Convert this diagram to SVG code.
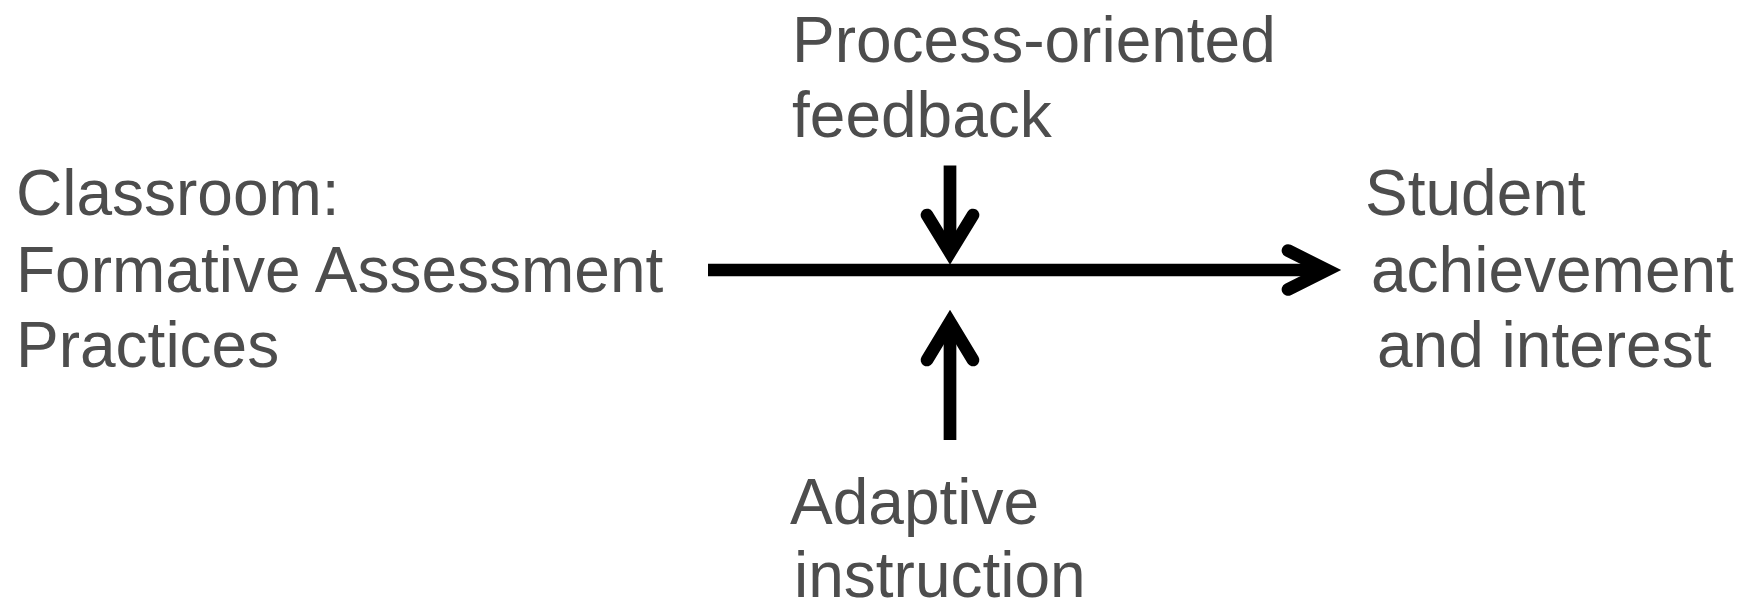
<svg xmlns="http://www.w3.org/2000/svg" width="1753" height="603" viewBox="0 0 1753 603">
  <style>
    .lbl { font-family: "Liberation Sans", Arial, sans-serif; font-size: 64px; fill: #4d4d4d; }
    .shaft { stroke: #000; stroke-width: 12.7; fill: none; stroke-linecap: butt; }
    .head { stroke: #000; stroke-width: 12.7; fill: none; stroke-linecap: round; stroke-linejoin: miter; stroke-miterlimit: 10; }
  </style>
  <rect width="1753" height="603" fill="#fff"/>
  <g id="connectors">
    <g id="main-arrow">
      <line class="shaft" x1="708" y1="270" x2="1322" y2="270"/>
      <polyline class="head" points="1288,250.5 1327,270 1288,289.5"/>
    </g>
    <g id="feedback-arrow">
      <line class="shaft" x1="950" y1="165.5" x2="950" y2="250"/>
      <polyline class="head" points="927,215 950,252.5 973,215"/>
    </g>
    <g id="adaptive-arrow">
      <line class="shaft" x1="950" y1="440" x2="950" y2="326"/>
      <polyline class="head" points="927,360 950,322 973,360"/>
    </g>
  </g>
  <g id="node-classroom">
    <text class="lbl" x="16" y="215">Classroom:</text>
    <text class="lbl" x="16" y="292">Formative Assessment</text>
    <text class="lbl" x="16" y="367">Practices</text>
  </g>
  <g id="node-feedback">
    <text class="lbl" x="792" y="62">Process-oriented</text>
    <text class="lbl" x="792" y="137">feedback</text>
  </g>
  <g id="node-adaptive">
    <text class="lbl" x="790" y="524">Adaptive</text>
    <text class="lbl" x="794" y="597">instruction</text>
  </g>
  <g id="node-outcome">
    <text class="lbl" x="1365" y="215">Student</text>
    <text class="lbl" x="1371" y="292">achievement</text>
    <text class="lbl" x="1377" y="367">and interest</text>
  </g>
</svg>
